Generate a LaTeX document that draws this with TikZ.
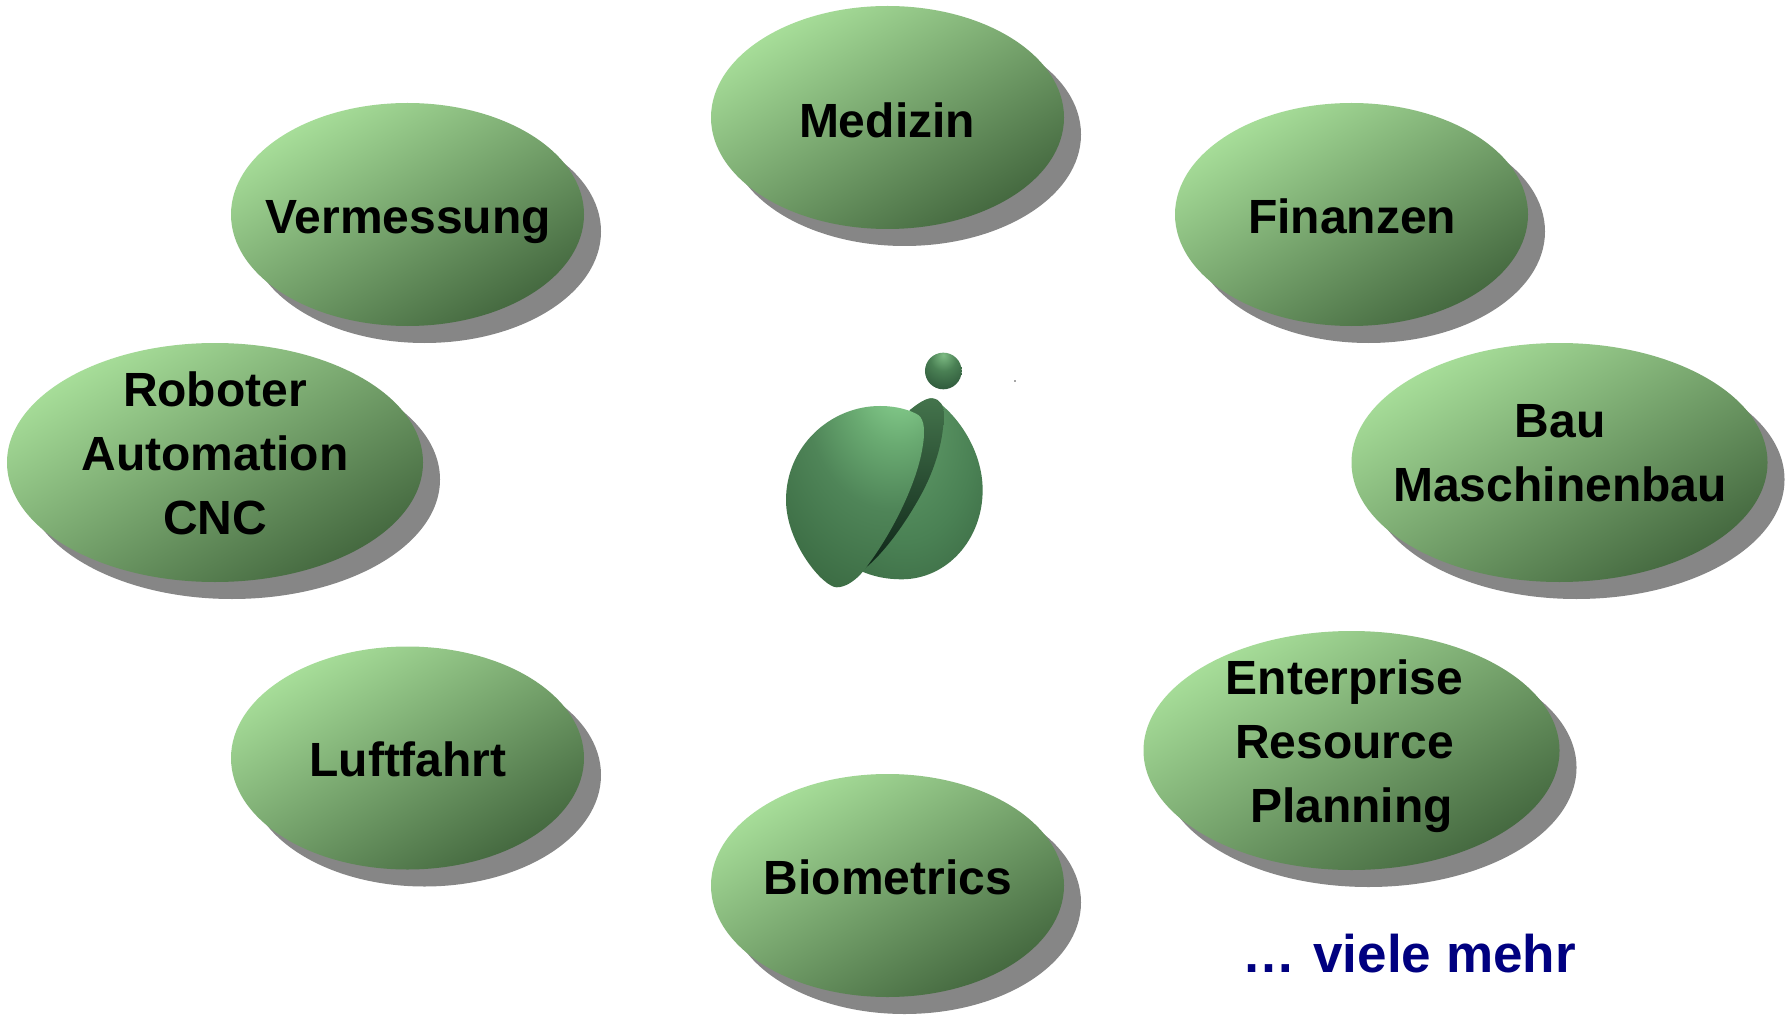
\documentclass[tikz,border=0pt]{standalone}
\usepackage{fontspec}
\setmainfont{Liberation Sans}
\usetikzlibrary{shapes.geometric,shadows}
\definecolor{blobA}{HTML}{A8DF9A}
\definecolor{blobB}{HTML}{44683F}
\definecolor{shadowgray}{HTML}{868686}
\definecolor{moreblue}{HTML}{000080}
\definecolor{lA}{HTML}{8AD391}
\definecolor{lB}{HTML}{6AAB72}
\definecolor{lC}{HTML}{4F8558}
\definecolor{lD}{HTML}{3A6A42}
\definecolor{lE}{HTML}{28492F}
\definecolor{rA}{HTML}{64A06C}
\definecolor{rB}{HTML}{4A8154}
\definecolor{rM}{HTML}{35603D}
\definecolor{rC}{HTML}{2A5133}
\definecolor{sA}{HTML}{7EBC84}
\definecolor{sB}{HTML}{4A8054}
\definecolor{sM}{HTML}{335F3F}
\definecolor{sC}{HTML}{234530}
\definecolor{cA}{HTML}{44744C}
\definecolor{cM}{HTML}{17341F}
\definecolor{cB}{HTML}{0E2518}
\pgfdeclareradialshading{leftball}{\pgfpoint{18bp}{38bp}}{color(0bp)=(lA);color(5bp)=(lA);color(17bp)=(lB);color(30bp)=(lC);color(50bp)=(lD);color(75bp)=(lE);color(100bp)=(lE)}
\pgfdeclareradialshading{rightball}{\pgfpoint{-10bp}{20bp}}{color(0bp)=(rA);color(29bp)=(rB);color(52bp)=(rM);color(62bp)=(rC);color(100bp)=(rC)}
\pgfdeclareradialshading{smallball}{\pgfpoint{0bp}{22bp}}{color(0bp)=(sA);color(18bp)=(sB);color(36bp)=(sM);color(52bp)=(sC);color(100bp)=(sC)}
\tikzset{
  x=1pt,y=-1pt,
  blob/.style={shape=ellipse,inner sep=0pt,outer sep=0pt,
    general shadow={fill=shadowgray,shadow xshift=17pt,shadow yshift=-17pt},
    shade,top color=blobA,bottom color=blobB,shading angle=30},
  small/.style={blob,minimum width=353pt,minimum height=223pt},
  large/.style={blob,minimum width=416pt,minimum height=239pt},
  lab/.style={inner sep=0pt,align=center,font=\fontsize{48}{64}\selectfont\bfseries,text=black},
}
\begin{document}
\begin{tikzpicture}
\useasboundingbox (0,0) rectangle (1787,1016);
\fill[white] (0,0) rectangle (1787,1016);
\node[small] (medizin) at (887.5,117.5) {};
\node[small] (vermessung) at (407.5,214.5) {};
\node[small] (finanzen) at (1351.5,214.5) {};
\node[small] (luftfahrt) at (407.5,758) {};
\node[small] (biometrics) at (887.5,885.5) {};
\node[large] (roboter) at (215,462.5) {};
\node[large] (bau) at (1559.5,462.5) {};
\node[large] (erp) at (1351.5,750.5) {};
\node[lab] (medizinT) at (887,120) {Medizin};
\node[lab] (vermessungT) at (408,222) {Vermessung};
\node[lab] (finanzenT) at (1352,216) {Finanzen};
\node[lab] (luftfahrtT) at (408,759) {Luftfahrt};
\node[lab] (biometricsT) at (888,877) {Biometrics};
\node[lab] (roboterT) at (215,453) {Roboter\\Automation\\CNC};
\node[lab] (bauT) at (1560,453) {Bau\\Maschinenbau};
\node[lab] (erpT) at (1351.5,746) {Enterprise\kern14pt\\Resource\kern14pt\\Planning};
\node[lab,text=moreblue,font=\fontsize{53}{64}\selectfont\bfseries] (mehr) at (1409,954) {…\kern3.5pt{} viele mehr};
\begin{scope}[shift={(760,330)},x=0.3333pt,y=-0.3333pt]
\shade[shading=rightball] (450,240) .. controls (475,220) and (500,203) .. (518,205) .. controls (590,250) and (668,360) .. (668,480) .. controls (668,630) and (560,748) .. (425,748) .. controls (380,748) and (340,740) .. (300,722) -- cycle;
\shade[top color=cA,middle color=cM,bottom color=cB] (450,240) .. controls (475,220) and (500,203) .. (518,205) .. controls (540,208) and (552,225) .. (551,255) .. controls (552,320) and (530,410) .. (480,500) .. controls (430,590) and (370,670) .. (315,715) -- (300,600) -- cycle;
\shade[shading=leftball] (230,772) .. controls (190,772) and (78,640) .. (78,510) .. controls (78,350) and (210,228) .. (360,228) .. controls (410,228) and (450,240) .. (475,255) .. controls (495,270) and (495,310) .. (488,350) .. controls (470,470) and (380,640) .. (300,735) .. controls (280,755) and (255,772) .. (230,772) -- cycle;
\shade[shading=smallball] (550,123) circle [radius=55];
\fill[black!70] (765,153) circle [radius=2.5];
\end{scope}
\end{tikzpicture}
\end{document}
